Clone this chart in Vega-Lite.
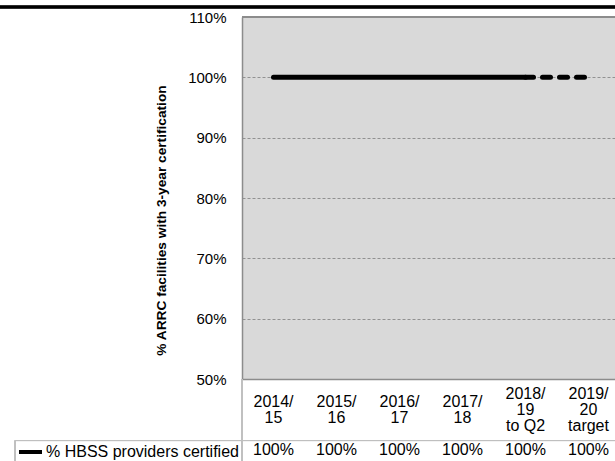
{
  "$schema": "https://vega.github.io/schema/vega-lite/v6.json",
  "width": 373,
  "height": 362,
  "autosize": {"type": "none"},
  "padding": {"left": 242, "top": 17, "right": 0, "bottom": 82},
  "background": "white",
  "config": {"font": "Liberation Sans", "view": {"fill": "#d9d9d9", "stroke": null}},
  "data": {"values": [
    {"period": "2014/15", "value": 1.0, "series": "% HBSS providers certified"},
    {"period": "2015/16", "value": 1.0, "series": "% HBSS providers certified"},
    {"period": "2016/17", "value": 1.0, "series": "% HBSS providers certified"},
    {"period": "2017/18", "value": 1.0, "series": "% HBSS providers certified"},
    {"period": "2018/19 to Q2", "value": 1.0, "series": "% HBSS providers certified"},
    {"period": "2019/20 target", "value": 1.0, "series": "% HBSS providers certified"}
  ]},
  "layer": [
    {
      "transform": [{"filter": {"not": {"field": "period", "equal": "2019/20 target"}}}],
      "mark": {"type": "line", "strokeWidth": 5, "strokeCap": "round"},
      "encoding": {
        "x": {
          "field": "period", "type": "ordinal", "sort": null, "bandPosition": 0.5,
          "scale": {"type": "band", "domain": ["2014/15", "2015/16", "2016/17", "2017/18", "2018/19 to Q2", "2019/20 target"], "range": [0, 378], "paddingInner": 0, "paddingOuter": 0},
          "axis": {
            "title": null, "orient": "bottom", "domain": true, "domainColor": "#8c8c8c", "domainWidth": 1.5,
            "ticks": false, "grid": false, "labelAngle": 0, "labelFontSize": 16, "labelColor": "#000000",
            "labelPadding": {"condition": {"test": "indexof(datum.label, ' ') >= 0", "value": 14}, "value": 22},
            "labelBaseline": "middle", "labelLineHeight": 16,
            "labelExpr": "split(replace(replace(datum.label, '/', '/|'), ' ', '|'), '|')"
          }
        },
        "y": {
          "field": "value", "type": "quantitative",
          "scale": {"domain": [0.5, 1.1], "nice": false, "zero": false},
          "axis": {
            "values": [0.5, 0.6, 0.7, 0.8, 0.9, 1.0, 1.1], "format": ".0%",
            "domain": true, "domainColor": "#8c8c8c", "domainWidth": 1.5, "ticks": false,
            "labelFontSize": 15, "labelColor": "#000000", "labelPadding": 16,
            "grid": true, "gridDash": [3, 2], "gridWidth": 0.8,
            "gridColor": {"condition": {"test": "datum.value > 0.55 && datum.value < 1.05", "value": "#7f7f7f"}, "value": "transparent"},
            "title": "% ARRC facilities with 3-year certification",
            "titleFontSize": 13.7, "titleFontWeight": "bold", "titleColor": "#000000", "titlePadding": 19,
            "titleY": 203
          }
        },
        "color": {
          "field": "series", "type": "nominal",
          "scale": {"range": ["#000000"]},
          "legend": {
            "title": null, "orient": "none", "legendX": -225, "legendY": 421.5,
            "symbolType": "stroke", "symbolStrokeWidth": 4, "symbolSize": 529,
            "labelFontSize": 16, "labelColor": "#000000", "labelOffset": 2, "labelLimit": 400,
            "padding": 0
          }
        }
      }
    },
    {
      "transform": [{"filter": {"field": "period", "oneOf": ["2018/19 to Q2", "2019/20 target"]}}],
      "mark": {"type": "line", "strokeWidth": 5, "strokeCap": "round", "strokeDash": [8, 9]},
      "encoding": {
        "x": {"field": "period", "type": "ordinal", "sort": null, "bandPosition": 0.5},
        "y": {"field": "value", "type": "quantitative"},
        "color": {"field": "series", "type": "nominal"}
      }
    },
    {
      "mark": {"type": "text", "fontSize": 16, "color": "#000000", "baseline": "middle", "align": "center"},
      "encoding": {
        "x": {"field": "period", "type": "ordinal", "sort": null, "bandPosition": 0.5},
        "y": {"datum": 0.382, "type": "quantitative"},
        "text": {"field": "value", "type": "quantitative", "format": ".0%"}
      }
    },
    {
      "mark": {"type": "rule", "color": "#8c8c8c", "strokeWidth": 1.5},
      "encoding": {"y": {"datum": 1.1, "type": "quantitative"}}
    },
    {
      "mark": {"type": "rule", "color": "#bfbfbf", "strokeWidth": 1},
      "encoding": {
        "x": {"datum": "2014/15", "type": "ordinal", "bandPosition": -3.603},
        "x2": {"datum": "2019/20 target", "bandPosition": 1.2},
        "y": {"datum": 0.398, "type": "quantitative"}
      }
    },
    {
      "mark": {"type": "rule", "color": "#bfbfbf", "strokeWidth": 1},
      "encoding": {
        "x": {"datum": "2014/15", "type": "ordinal", "bandPosition": -3.603},
        "y": {"datum": 0.398, "type": "quantitative"},
        "y2": {"datum": 0.3}
      }
    },
    {
      "mark": {"type": "rule", "color": "#bfbfbf", "strokeWidth": 1},
      "encoding": {
        "x": {"datum": "2014/15", "type": "ordinal", "bandPosition": 0},
        "y": {"datum": 0.5, "type": "quantitative"},
        "y2": {"datum": 0.3}
      }
    },
    {
      "mark": {"type": "rule", "color": "#000000", "strokeWidth": 2.5},
      "encoding": {
        "x": {"datum": "2014/15", "type": "ordinal", "bandPosition": -3.9},
        "x2": {"datum": "2019/20 target", "bandPosition": 1.2},
        "y": {"datum": 1.1166, "type": "quantitative"}
      }
    }
  ]
}
